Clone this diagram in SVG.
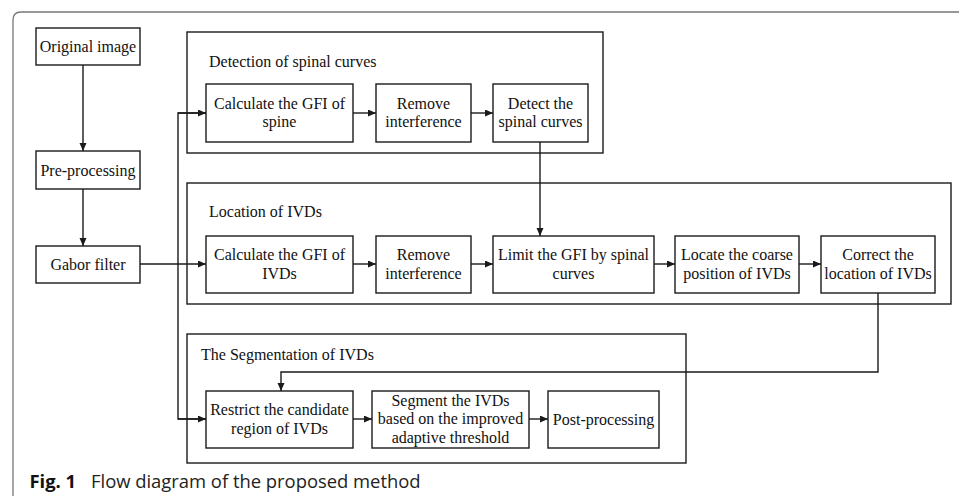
<svg xmlns="http://www.w3.org/2000/svg" width="959" height="496" viewBox="0 0 959 496">
<defs>
<style>
.box{fill:#fff;stroke:#1a1a1a;stroke-width:1.4}
.grp{fill:none;stroke:#1a1a1a;stroke-width:1.4}
.t{font-family:"Liberation Serif","Times New Roman",serif;font-size:16px;fill:#111;text-anchor:middle}
.gt{font-family:"Liberation Serif","Times New Roman",serif;font-size:16px;fill:#111}
.c{fill:none;stroke:#1a1a1a;stroke-width:1.4}
.frame{fill:none;stroke:#777;stroke-width:1.3}
.cap{font-family:"Open Sans","Noto Sans",sans-serif;font-size:18.4px;fill:#222}
</style>
<marker id="ah" markerUnits="userSpaceOnUse" markerWidth="9" markerHeight="8" refX="8" refY="3.5" orient="auto">
<path d="M0,0 L8,3.5 L0,7 z" fill="#1a1a1a"/>
</marker>
</defs>
<rect width="959" height="496" fill="#fff"/>
<path class="frame" d="M13,496 V20 Q13,12 21,12 H959"/>

<g id="grp-detection">
<rect class="grp" x="187" y="32" width="416" height="121"/>
<text class="gt" x="209" y="67">Detection of spinal curves</text>
</g>
<g id="grp-location">
<rect class="grp" x="187" y="183" width="764" height="121"/>
<text class="gt" x="209" y="217">Location of IVDs</text>
</g>
<g id="grp-segmentation">
<rect class="grp" x="187" y="334" width="499" height="129"/>
<text class="gt" x="201" y="360">The Segmentation of IVDs</text>
</g>

<g id="connectors">
<line class="c" x1="83" y1="65" x2="83" y2="151" marker-end="url(#ah)"/>
<line class="c" x1="83" y1="189" x2="83" y2="246" marker-end="url(#ah)"/>
<line class="c" x1="140" y1="264" x2="206" y2="264" marker-end="url(#ah)"/>
<path class="c" d="M206,113 H178 V419 H206"/>
<line class="c" x1="178" y1="113" x2="206" y2="113" marker-end="url(#ah)"/>
<line class="c" x1="178" y1="419" x2="206" y2="419" marker-end="url(#ah)"/>
<line class="c" x1="353" y1="113" x2="376" y2="113" marker-end="url(#ah)"/>
<line class="c" x1="471" y1="113" x2="493" y2="113" marker-end="url(#ah)"/>
<line class="c" x1="540" y1="142" x2="540" y2="236" marker-end="url(#ah)"/>
<line class="c" x1="353" y1="264" x2="376" y2="264" marker-end="url(#ah)"/>
<line class="c" x1="471" y1="264" x2="493" y2="264" marker-end="url(#ah)"/>
<line class="c" x1="654" y1="264" x2="675" y2="264" marker-end="url(#ah)"/>
<line class="c" x1="799" y1="264" x2="821" y2="264" marker-end="url(#ah)"/>
<path class="c" d="M878,293 V372 H281 V391" marker-end="url(#ah)"/>
<line class="c" x1="353" y1="419" x2="372" y2="419" marker-end="url(#ah)"/>
<line class="c" x1="529" y1="419" x2="548" y2="419" marker-end="url(#ah)"/>
</g>

<g id="n-original">
<rect class="box" x="36" y="28" width="104" height="37"/>
<text class="t" x="88" y="52">Original image</text>
</g>
<g id="n-preprocessing">
<rect class="box" x="36" y="151" width="104" height="38"/>
<text class="t" x="88" y="175.5">Pre-processing</text>
</g>
<g id="n-gabor">
<rect class="box" x="36" y="246" width="104" height="37"/>
<text class="t" x="88" y="270">Gabor filter</text>
</g>

<g id="n-calc-spine">
<rect class="box" x="206" y="84" width="147" height="58"/>
<text class="t" x="279.5" y="108.5">Calculate the GFI of</text>
<text class="t" x="279.5" y="127">spine</text>
</g>
<g id="n-remove1">
<rect class="box" x="376" y="84" width="95" height="58"/>
<text class="t" x="423.5" y="108.5">Remove</text>
<text class="t" x="423.5" y="127">interference</text>
</g>
<g id="n-detect">
<rect class="box" x="493" y="84" width="95" height="58"/>
<text class="t" x="540.5" y="108.5">Detect the</text>
<text class="t" x="540.5" y="127">spinal curves</text>
</g>

<g id="n-calc-ivds">
<rect class="box" x="206" y="236" width="147" height="57"/>
<text class="t" x="279.5" y="260">Calculate the GFI of</text>
<text class="t" x="279.5" y="278.5">IVDs</text>
</g>
<g id="n-remove2">
<rect class="box" x="376" y="236" width="95" height="57"/>
<text class="t" x="423.5" y="260">Remove</text>
<text class="t" x="423.5" y="278.5">interference</text>
</g>
<g id="n-limit">
<rect class="box" x="493" y="236" width="161" height="57"/>
<text class="t" x="573.5" y="260">Limit the GFI by spinal</text>
<text class="t" x="573.5" y="278.5">curves</text>
</g>
<g id="n-locate">
<rect class="box" x="675" y="236" width="124" height="57"/>
<text class="t" x="737" y="260">Locate the coarse</text>
<text class="t" x="737" y="278.5">position of IVDs</text>
</g>
<g id="n-correct">
<rect class="box" x="821" y="236" width="114" height="57"/>
<text class="t" x="878" y="260">Correct the</text>
<text class="t" x="878" y="278.5">location of IVDs</text>
</g>

<g id="n-restrict">
<rect class="box" x="206" y="391" width="147" height="57"/>
<text class="t" x="279.5" y="415">Restrict the candidate</text>
<text class="t" x="279.5" y="433.5">region of IVDs</text>
</g>
<g id="n-segment">
<rect class="box" x="372" y="391" width="157" height="57"/>
<text class="t" x="450.5" y="405.5">Segment the IVDs</text>
<text class="t" x="450.5" y="424">based on the improved</text>
<text class="t" x="450.5" y="442.5">adaptive threshold</text>
</g>
<g id="n-post">
<rect class="box" x="548" y="391" width="111" height="57"/>
<text class="t" x="603.5" y="424.5">Post-processing</text>
</g>

<text class="cap" x="29.5" y="488"><tspan font-weight="bold" fill="#111">Fig. 1</tspan><tspan x="91">Flow diagram of the proposed method</tspan></text>
</svg>
